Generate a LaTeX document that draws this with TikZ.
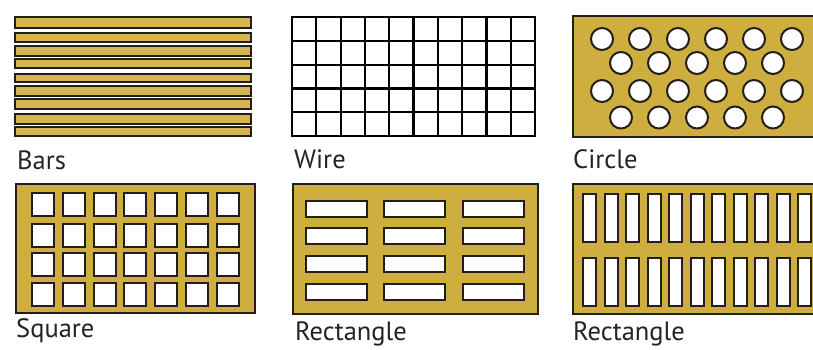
\documentclass[tikz,border=0pt]{standalone}
\usepackage{fontspec}
\setmainfont{PT Sans}
\definecolor{gold}{RGB}{207,174,64}
\definecolor{barcol}{RGB}{214,182,82}
\definecolor{edge}{RGB}{35,30,25}
\definecolor{labcol}{RGB}{35,35,40}
\begin{document}
\begin{tikzpicture}[x=1pt,y=-1pt,
  plate/.style={fill=gold,draw=edge,line width=2.2pt},
  barstyle/.style={fill=barcol,draw=edge,line width=2.2pt},
  hole/.style={fill=white,draw=edge,line width=2pt},
  wirestyle/.style={draw=black,line width=2.2pt,line cap=rect},
  lab/.style={anchor=base west,inner sep=0pt,text=labcol,font=\fontsize{26.5}{30}\selectfont}]
\useasboundingbox (0,0) rectangle (813,349);
\clip (0,0) rectangle (813,349);
\fill[white] (0,0) rectangle (813,349);
% Bars
\foreach \a/\b in {17/28,33/42,46/56,59/68,74/82,86/96,99/109,114/124,127/136}
  \draw[barstyle] (15,\a) rectangle (251,\b);
\node[lab] (bars) at (17,169) {Bars};
% Wire
\foreach \i in {0,...,10}
  \draw[wirestyle] ({292+24.3*\i},17) -- ({292+24.3*\i},136);
\foreach \j in {0,...,5}
  \draw[wirestyle] (292,{17+23.8*\j}) -- (535,{17+23.8*\j});
\node[lab] (wire) at (294,168) {Wire};
% Circle
\draw[plate] (573,16) rectangle (830,137);
\foreach \y in {39,91} \foreach \x in {602,640,678,716,754,792}
  \draw[hole] (\x,\y) circle (11);
\foreach \y in {63,117.5} \foreach \x in {621,659,697,735,773}
  \draw[hole] (\x,\y) circle (11);
\node[lab] (circle) at (573,168) {Circle};
% Square
\draw[plate] (16,184) rectangle (255,313);
\foreach \y in {193,224,253,283} \foreach \x in {32,62.8,93.6,124.4,155.2,186,216.8}
  \draw[hole] (\x,\y) rectangle ++(22,22.5);
\node[lab] (square) at (16,337) {Square};
% Rectangle (horizontal)
\draw[plate] (293,184) rectangle (538,314);
\foreach \y in {201,228,256,284} \foreach \x in {306,384,463}
  \draw[hole] (\x,\y) rectangle ++(61,16);
\node[lab] (recth) at (295,340) {Rectangle};
% Rectangle (vertical)
\draw[plate] (573,184) rectangle (830,314);
\foreach \y in {194,258} \foreach \x in {583,604.5,626,647.5,669,690.5,712,733.5,755,776.5,798}
  \draw[hole] (\x,\y) rectangle ++(13,48);
\node[lab] (rectv) at (573,340) {Rectangle};
\end{tikzpicture}
\end{document}
